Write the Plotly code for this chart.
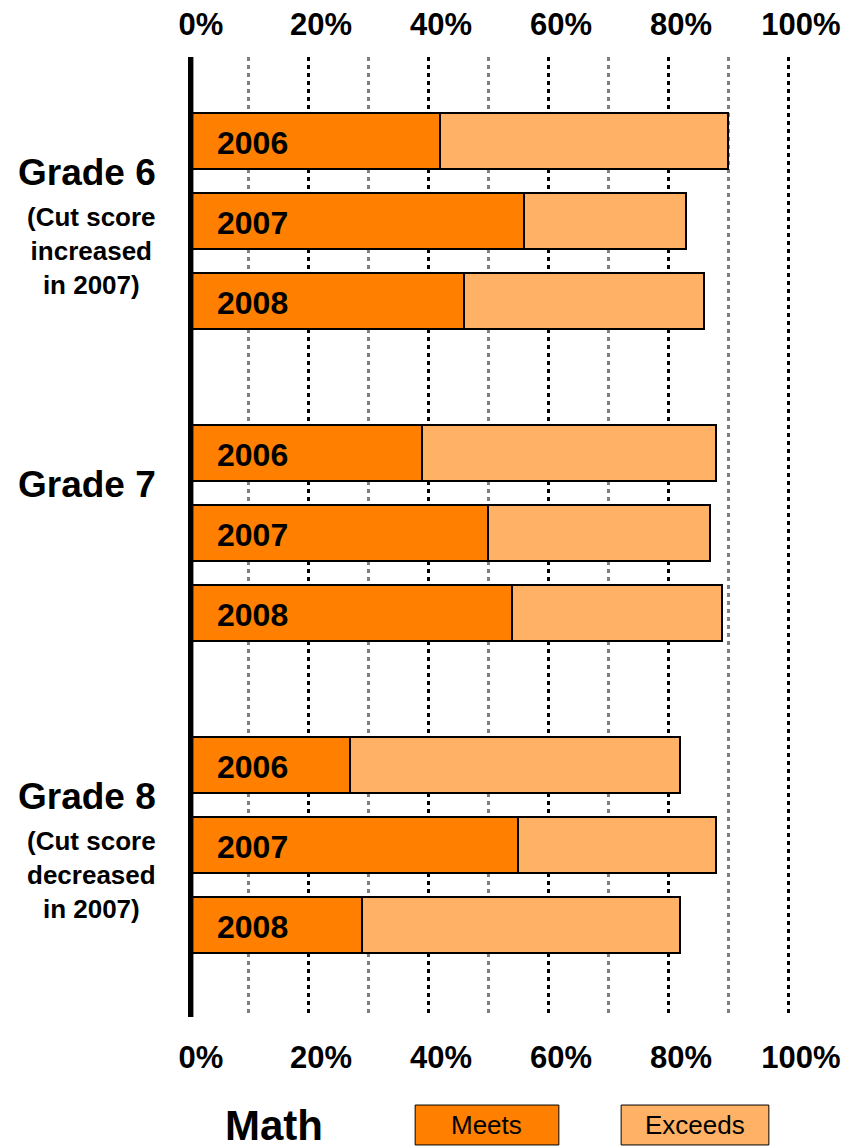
import plotly.graph_objects as go

# data
grades = ["Grade 6", "Grade 7", "Grade 8"]
grade_notes = ["(Cut score<br>increased<br>in 2007)", "", "(Cut score<br>decreased<br>in 2007)"]
years = ["2006", "2007", "2008"]
meets_pct = [42, 56, 46, 39, 50, 54, 27, 55, 29]
exceeds_pct = [48, 27, 40, 49, 37, 35, 55, 33, 53]
x_ticks = [0, 20, 40, 60, 80, 100]
x_tick_text = ["0%", "20%", "40%", "60%", "80%", "100%"]

MEETS_COLOR = "#FF8000"
EXCEEDS_COLOR = "#FFB265"
FONT = "Liberation Sans, Arial, sans-serif"

# bar slots: 3 years per grade, small gap between grades
GROUP_PITCH = 3.9
FIRST = 1.05
ypos = [FIRST + g * GROUP_PITCH + i for g in range(len(grades)) for i in range(len(years))]
year_labels = [y for _ in grades for y in years]

fig = go.Figure()

fig.add_trace(go.Bar(
    x=meets_pct, y=ypos, orientation="h", name="Meets",
    marker=dict(color=MEETS_COLOR, line=dict(color="black", width=1.2)),
    width=0.7, showlegend=False, hoverinfo="skip"
))
fig.add_trace(go.Bar(
    x=exceeds_pct, y=ypos, orientation="h", name="Exceeds",
    marker=dict(color=EXCEEDS_COLOR, line=dict(color="black", width=1.2)),
    width=0.7, showlegend=False, hoverinfo="skip"
))
# dummy trace so the top axis gets drawn
fig.add_trace(go.Scatter(
    x=[0, 100], y=[0, 0], xaxis="x2", mode="markers",
    marker=dict(opacity=0), showlegend=False, hoverinfo="skip"
))

annotations = []
for yp, lab in zip(ypos, year_labels):
    annotations.append(dict(
        x=0, y=yp, xref="x", yref="y", text=lab, showarrow=False,
        xanchor="left", yanchor="middle", xshift=27, yshift=-2,
        font=dict(family=FONT, size=32, color="black", weight="bold")
    ))

for g, (grade, note) in enumerate(zip(grades, grade_notes)):
    start = FIRST + g * GROUP_PITCH
    annotations.append(dict(
        x=-0.168, y=start + 0.39, xref="paper", yref="y", text=grade,
        showarrow=False, xanchor="center", yanchor="middle",
        font=dict(family=FONT, size=37, color="black", weight="bold")
    ))
    if note:
        annotations.append(dict(
            x=-0.16, y=start + 1.38, xref="paper", yref="y", text=note,
            showarrow=False, xanchor="center", yanchor="middle", align="center",
            font=dict(family=FONT, size=26, color="black", weight="bold")
        ))

# legend drawn by hand
annotations += [
    dict(x=0.1433, y=-0.1125, xref="paper", yref="paper", text="Math", showarrow=False,
         xanchor="center", yanchor="middle",
         font=dict(family=FONT, size=42, color="black", weight="bold")),
    dict(x=(0.3767 + 0.615) / 2, y=-0.1125, xref="paper", yref="paper", text="Meets",
         showarrow=False, xanchor="center", yanchor="middle",
         font=dict(family=FONT, size=26, color="black")),
    dict(x=(0.7183 + 0.9633) / 2, y=-0.1125, xref="paper", yref="paper", text="Exceeds",
         showarrow=False, xanchor="center", yanchor="middle",
         font=dict(family=FONT, size=26, color="black")),
]

shapes = [
    # thick vertical axis at 0% (nudged right so the clip doesn't halve it)
    dict(type="line", xref="x", yref="paper", x0=0.4, x1=0.4, y0=0, y1=1,
         line=dict(color="black", width=6), layer="above"),
    dict(type="rect", xref="paper", yref="paper", x0=0.3767, x1=0.615, y0=-0.1333, y1=-0.0917,
         fillcolor=MEETS_COLOR, line=dict(color="black", width=1)),
    dict(type="rect", xref="paper", yref="paper", x0=0.7183, x1=0.9633, y0=-0.1333, y1=-0.0917,
         fillcolor=EXCEEDS_COLOR, line=dict(color="black", width=1)),
]

tick_font = dict(family=FONT, size=31, color="black", weight="bold")

# page body has an 8px margin, so the figure is offset a bit
fig.update_layout(
    barmode="stack",
    width=865, height=1148,
    margin=dict(l=180, r=82, t=49, b=139, autoexpand=False),
    paper_bgcolor="white", plot_bgcolor="white",
    xaxis=dict(
        range=[0, 100.5], tickvals=x_ticks, ticktext=x_tick_text, side="bottom",
        tickfont=tick_font, ticks="outside", ticklen=13, tickcolor="rgba(0,0,0,0)",
        ticklabelshift=13,
        showgrid=True, gridcolor="black", gridwidth=3, griddash="4px,4px",
        minor=dict(tickvals=[10, 30, 50, 70, 90], showgrid=True, gridcolor="#808080",
                   gridwidth=3, griddash="4px,4px"),
        zeroline=False, showline=False, fixedrange=True, automargin=False
    ),
    xaxis2=dict(
        range=[0, 100.5], tickvals=x_ticks, ticktext=x_tick_text, side="top", overlaying="x",
        tickfont=tick_font, ticks="outside", ticklen=9, tickcolor="rgba(0,0,0,0)",
        ticklabelshift=13,
        showgrid=False, zeroline=False, showline=False, automargin=False
    ),
    yaxis=dict(range=[12, 0], showticklabels=False, showgrid=False, zeroline=False,
               showline=False, automargin=False),
    annotations=annotations,
    shapes=shapes,
)

fig.write_html("out.html")
